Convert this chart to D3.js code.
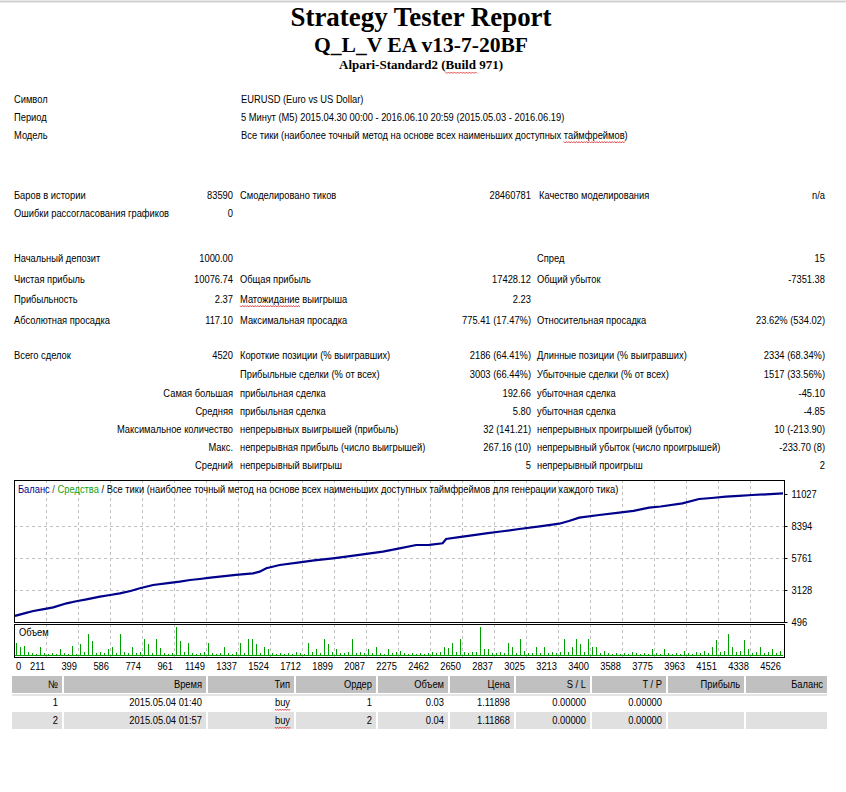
<!DOCTYPE html>
<html>
<head>
<meta charset="utf-8">
<script src="https://cdn.jsdelivr.net/npm/d3@7"></script>
<style>
  body { margin: 0; background: #fff; }
  svg text { font-family: "Liberation Sans", Arial, sans-serif; }
</style>
</head>
<body>
<svg id="report"></svg>
<script>
// ---- report texts ----
const titleLines = ["Strategy Tester Report", "Q_L_V EA v13-7-20BF", "Alpari-Standard2 (Build 971)"];

const headerRows = [
  ["Символ", "EURUSD (Euro vs US Dollar)"],
  ["Период", "5 Минут (M5) 2015.04.30 00:00 - 2016.06.10 20:59 (2015.05.03 - 2016.06.19)"],
  ["Модель", "Все тики (наиболее точный метод на основе всех наименьших доступных таймфреймов)"]
];

// label1, value1, label2, value2, label3, value3
const statRows = [
  ["Баров в истории", "83590", "Смоделировано тиков", "28460781", "Качество моделирования", "n/a"],
  ["Ошибки рассогласования графиков", "0", "", "", "", ""],
  ["Начальный депозит", "1000.00", "", "", "Спред", "15"],
  ["Чистая прибыль", "10076.74", "Общая прибыль", "17428.12", "Общий убыток", "-7351.38"],
  ["Прибыльность", "2.37", "Матожидание выигрыша", "2.23", "", ""],
  ["Абсолютная просадка", "117.10", "Максимальная просадка", "775.41 (17.47%)", "Относительная просадка", "23.62% (534.02)"],
  ["Всего сделок", "4520", "Короткие позиции (% выигравших)", "2186 (64.41%)", "Длинные позиции (% выигравших)", "2334 (68.34%)"],
  ["", "", "Прибыльные сделки (% от всех)", "3003 (66.44%)", "Убыточные сделки (% от всех)", "1517 (33.56%)"],
  ["", "Самая большая", "прибыльная сделка", "192.66", "убыточная сделка", "-45.10"],
  ["", "Средняя", "прибыльная сделка", "5.80", "убыточная сделка", "-4.85"],
  ["", "Максимальное количество", "непрерывных выигрышей (прибыль)", "32 (141.21)", "непрерывных проигрышей (убыток)", "10 (-213.90)"],
  ["", "Макс.", "непрерывная прибыль (число выигрышей)", "267.16 (10)", "непрерывный убыток (число проигрышей)", "-233.70 (8)"],
  ["", "Средний", "непрерывный выигрыш", "5", "непрерывный проигрыш", "2"]
];
const statRowY = [195, 213, 258, 279, 299, 320, 355, 374, 393, 411, 429, 447, 465];

// ---- chart data ----
const legendParts = ["Баланс", " / ", "Средства", " / Все тики (наиболее точный метод на основе всех наименьших доступных таймфреймов для генерации каждого тика)"];

const balanceTrades = [0, 60, 108, 170, 225, 304, 360, 421, 500, 560, 617, 680, 735, 813, 900, 970, 1030, 1087, 1150, 1205,
  1300, 1401, 1440, 1479, 1558, 1675, 1760, 1871, 1960, 2047, 2165, 2263, 2361, 2439, 2517, 2537, 2635, 2700, 2772, 2870,
  2968, 3100, 3203, 3260, 3321, 3438, 3556, 3640, 3732, 3800, 3928, 4026, 4100, 4183, 4260, 4339, 4420, 4520];
const balanceValues = [1000, 1230, 1400, 1560, 1705, 2034, 2200, 2364, 2578, 2720, 2857, 3050, 3268, 3540, 3690, 3812, 3950, 4034, 4140, 4223,
  4370, 4502, 4640, 4914, 5185, 5408, 5560, 5737, 5900, 6066, 6280, 6559, 6831, 6840, 6971, 7324, 7514, 7640, 7793, 7960,
  8147, 8380, 8583, 8800, 9077, 9299, 9488, 9640, 9900, 10000, 10261, 10615, 10700, 10805, 10880, 10944, 11000, 11076];

const volumes = [
  0.13, 0.09, 0.10, 0.04, 0.03, 0.02, 0.09, 0.03, 0.02, 0.03, 0.02, 0.07, 0.03, 0.02, 0.10, 0.02, 0.12, 0.04, 0.22, 0.15,
  0.03, 0.04, 0.03, 0.07, 0.09, 0.03, 0.22, 0.04, 0.03, 0.09, 0.03, 0.04, 0.17, 0.12, 0.03, 0.17, 0.08, 0.03, 0.02, 0.03,
  0.29, 0.15, 0.04, 0.13, 0.03, 0.02, 0.03, 0.04, 0.13, 0.03, 0.02, 0.03, 0.09, 0.03, 0.02, 0.04, 0.13, 0.03, 0.17, 0.17,
  0.12, 0.03, 0.09, 0.07, 0.03, 0.02, 0.03, 0.02, 0.03, 0.02, 0.04, 0.03, 0.02, 0.13, 0.04, 0.07, 0.03, 0.17, 0.12, 0.04,
  0.07, 0.03, 0.03, 0.04, 0.17, 0.03, 0.04, 0.03, 0.07, 0.03, 0.09, 0.03, 0.02, 0.07, 0.03, 0.04, 0.05, 0.03, 0.02, 0.03,
  0.02, 0.03, 0.02, 0.03, 0.04, 0.03, 0.04, 0.09, 0.08, 0.13, 0.04, 0.17, 0.04, 0.03, 0.04, 0.04, 0.29, 0.07, 0.07, 0.03,
  0.03, 0.04, 0.03, 0.13, 0.09, 0.03, 0.17, 0.05, 0.03, 0.03, 0.09, 0.03, 0.09, 0.03, 0.04, 0.03, 0.04, 0.17, 0.04, 0.09,
  0.17, 0.12, 0.04, 0.17, 0.09, 0.09, 0.03, 0.05, 0.03, 0.02, 0.03, 0.02, 0.03, 0.02, 0.04, 0.03, 0.02, 0.03, 0.02, 0.07,
  0.03, 0.02, 0.07, 0.03, 0.02, 0.03, 0.02, 0.05, 0.03, 0.02, 0.04, 0.03, 0.05, 0.03, 0.09, 0.16, 0.04, 0.05, 0.22, 0.09,
  0.04, 0.05, 0.16, 0.07, 0.03, 0.04, 0.09, 0.03, 0.04, 0.07, 0.03, 0.05
];

const yTicks = [496, 3128, 5761, 8394, 11027];
const xTickLabels = ["0", "211", "399", "586", "774", "961", "1149", "1337", "1524", "1712", "1899", "2087", "2275",
  "2462", "2650", "2837", "3025", "3213", "3400", "3588", "3775", "3963", "4151", "4338", "4526"];

// ---- deals table ----
const tableHeader = ["№", "Время", "Тип", "Ордер", "Объем", "Цена", "S / L", "T / P", "Прибыль", "Баланс"];
const tableRows = [
  ["1", "2015.05.04 01:40", "buy", "1", "0.03", "1.11898", "0.00000", "0.00000", "", ""],
  ["2", "2015.05.04 01:57", "buy", "2", "0.04", "1.11868", "0.00000", "0.00000", "", ""]
];
const tableEdges = [12, 64, 208, 296, 378, 450, 516, 592, 668, 746, 829];

// ------------------------------------------------------------------
const W = 846, H = 792;
const SX = 0.85;       // horizontal squeeze of the report text
const FS = 11;

const svg = d3.select("#report").attr("width", W).attr("height", H);

// text helper: text positioned via a group so it can be squeezed horizontally
function put(parent, x, y, str, anchor, opts) {
  opts = opts || {};
  const g = parent.append("g")
    .attr("transform", `translate(${x},${y}) scale(${opts.sx || SX},1)`);
  const t = g.append("text")
    .attr("text-anchor", anchor || "start")
    .attr("dy", "0.35em")
    .style("font-size", (opts.size || FS) + "px")
    .attr("fill", opts.fill || "#000")
    .text(str);
  return t;
}

// red spell-check squiggle under chars [a, b) of a text element
function squiggle(t, a, b) {
  const node = t.node();
  const r0 = node.getExtentOfChar(a), r1 = node.getExtentOfChar(b - 1);
  const x0 = r0.x, x1 = r1.x + r1.width, yb = r0.y + r0.height + 0.5;
  let d = `M${x0},${yb}`;
  for (let x = x0, k = 0; x < x1; x += 1.5, k++) d += `L${x + 1.5},${yb + (k % 2 ? 0 : 1.5)}`;
  d3.select(node.parentNode).append("path")
    .attr("d", d).attr("fill", "none").attr("stroke", "#e02020").attr("stroke-width", 0.8);
}

// top rule
svg.append("line").attr("x1", 0).attr("x2", W).attr("y1", 1.5).attr("y2", 1.5)
  .attr("stroke", "#d0d0d0").attr("stroke-width", 2);

// ---- titles ----
const titleSpec = [
  { y: 26, size: 27, len: 261 },
  { y: 52, size: 20, len: 214 },
  { y: 69, size: 13, len: 164 }
];
titleLines.forEach((s, i) => {
  const t = svg.append("text")
    .attr("x", 421).attr("y", titleSpec[i].y)
    .attr("text-anchor", "middle")
    .attr("textLength", titleSpec[i].len)
    .attr("lengthAdjust", "spacingAndGlyphs")
    .style("font-family", "'Liberation Serif', 'Times New Roman', serif")
    .style("font-weight", "bold")
    .style("font-size", titleSpec[i].size + "px")
    .text(s);
  if (i === 2) {
    const node = t.node();
    const a = s.indexOf("Build");
    const r0 = node.getExtentOfChar(a), r1 = node.getExtentOfChar(a + 4);
    const yb = titleSpec[i].y + 3;
    let d = `M${r0.x},${yb}`;
    for (let x = r0.x, k = 0; x < r1.x + r1.width; x += 1.5, k++) d += `L${x + 1.5},${yb + (k % 2 ? 0 : 1.5)}`;
    svg.append("path").attr("d", d).attr("fill", "none").attr("stroke", "#e02020").attr("stroke-width", 0.8);
  }
});

// ---- general info ----
const info = svg.append("g");
const headerY = [99, 117, 135];
headerRows.forEach((r, i) => {
  put(info, 14, headerY[i], r[0]);
  const t = put(info, 241, headerY[i], r[1]);
  if (i === 2) {
    const a = r[1].indexOf("таймфреймов");
    squiggle(t, a, a + 11);
  }
});

const colX = { l1: 14, v1: 233, l2: 240, v2: 531, l3: 537, v3: 825 };
statRows.forEach((r, i) => {
  const y = statRowY[i];
  if (r[0]) put(info, colX.l1, y, r[0]);
  if (r[1]) put(info, colX.v1, y, r[1], "end");
  if (r[2]) {
    const t = put(info, colX.l2, y, r[2]);
    if (r[2].startsWith("Матожидание")) squiggle(t, 0, 11);
  }
  if (r[3]) put(info, colX.v2, y, r[3], "end");
  if (r[4]) put(info, i === 0 ? colX.l3 + 2 : colX.l3, y, r[4]);
  if (r[5]) put(info, colX.v3, y, r[5], "end");
});

// ---- balance chart ----
const frame = { left: 14, right: 784, top: 480, bottom: 622 };
const vol = { top: 624, bottom: 657 };

const x = d3.scaleLinear().domain([0, 4520]).range([frame.left + 1, frame.right - 1]);
const y = d3.scaleLinear().domain([496, 11027]).range([frame.bottom, 494]);
const gridX = d3.scaleLinear().domain([0, xTickLabels.length - 1]).range([frame.left, 782]);
const vx = d3.scaleLinear().domain([0, volumes.length - 1]).range([frame.left + 2, frame.right - 4]);
const vy = d3.scaleLinear().domain([0, 0.30]).range([vol.bottom - 1, vol.top + 2]);

const chart = svg.append("g");
chart.append("rect").attr("x", frame.left).attr("y", frame.top)
  .attr("width", frame.right - frame.left).attr("height", frame.bottom - frame.top).attr("fill", "#fff");

// dashed grid
const grid = chart.append("g").attr("stroke", "#c0c0c0").attr("stroke-dasharray", "3,3").attr("shape-rendering", "crispEdges");
d3.range(1, xTickLabels.length - 1).forEach(i => {
  const gx = Math.round(gridX(i)) + 0.5;
  grid.append("line").attr("x1", gx).attr("x2", gx).attr("y1", frame.top).attr("y2", frame.bottom);
  grid.append("line").attr("x1", gx).attr("x2", gx).attr("y1", vol.top).attr("y2", vol.bottom);
});
yTicks.slice(1, -1).forEach(v => {
  const gy = Math.round(y(v)) + 0.5;
  grid.append("line").attr("x1", frame.left).attr("x2", frame.right).attr("y1", gy).attr("y2", gy);
});

// legend line
const legend = chart.append("g").attr("transform", `translate(18,489) scale(${SX},1)`)
  .append("text").attr("dy", "0.35em").style("font-size", FS + "px");
const legendColors = ["#00008b", "#404040", "#10a010", "#000"];
legendParts.forEach((p, i) => legend.append("tspan").attr("fill", legendColors[i]).text(p));

// volume bars
chart.append("g").attr("fill", "#00a000").attr("shape-rendering", "crispEdges")
  .selectAll("rect").data(volumes).join("rect")
  .attr("x", (d, i) => Math.round(vx(i)))
  .attr("y", d => vy(d))
  .attr("width", 1)
  .attr("height", d => vol.bottom - 1 - vy(d));
chart.append("line").attr("x1", frame.left + 1).attr("x2", frame.right - 1)
  .attr("y1", vol.bottom - 1.5).attr("y2", vol.bottom - 1.5).attr("stroke", "#00a000").attr("stroke-width", 1);
put(chart, 19, 632, "Объем");

// balance line
const line = d3.line().x((d, i) => x(balanceTrades[i])).y(d => y(d));
chart.append("path").datum(balanceValues)
  .attr("d", line).attr("fill", "none").attr("stroke", "#00008b").attr("stroke-width", 2.2);

// frames
[[frame.top, frame.bottom], [vol.top, vol.bottom]].forEach(([t, b]) => {
  chart.append("rect").attr("x", frame.left + 0.5).attr("y", t + 0.5)
    .attr("width", frame.right - frame.left).attr("height", b - t)
    .attr("fill", "none").attr("stroke", "#000").attr("stroke-width", 1);
});

// y axis on the right
const yAxis = chart.append("g")
  .attr("transform", `translate(${frame.right + 0.5},0)`)
  .call(d3.axisRight(y).tickValues(yTicks).tickSize(3).tickPadding(3).tickFormat(d3.format("d")));
yAxis.select(".domain").remove();
yAxis.selectAll("line").attr("stroke", "#000");
yAxis.selectAll("text")
  .style("font-family", "'Liberation Sans', Arial, sans-serif").style("font-size", FS + "px")
  .attr("transform", `scale(${SX},1)`).attr("x", 7 / SX);

// x tick labels (right-aligned to the grid lines)
const xLab = chart.append("g");
xTickLabels.forEach((s, i) => {
  if (i === 0) put(xLab, 16, 666, s);
  else put(xLab, gridX(i) - 1, 666, s, "end");
});

// ---- deals table ----
const table = svg.append("g");
const rowTop = [676, 694, 712];
const rowH = 17;
function cells(row, top, fill) {
  for (let c = 0; c < tableEdges.length - 1; c++) {
    const x0 = tableEdges[c], x1 = tableEdges[c + 1];
    if (fill) table.append("rect").attr("x", x0).attr("y", top)
      .attr("width", x1 - x0 - 2).attr("height", rowH).attr("fill", fill);
    if (row[c]) {
      const t = put(table, x1 - 6, top + rowH / 2, row[c], "end");
      if (row[c] === "buy") squiggle(t, 0, 3);
    }
  }
}
cells(tableHeader, rowTop[0], "#c0c0c0");
table.append("rect").attr("x", 12).attr("y", 694).attr("width", 815).attr("height", 2).attr("fill", "#e4e4e4");
cells(tableRows[0], rowTop[1], null);
cells(tableRows[1], rowTop[2], "#e0e0e0");
</script>
</body>
</html>
